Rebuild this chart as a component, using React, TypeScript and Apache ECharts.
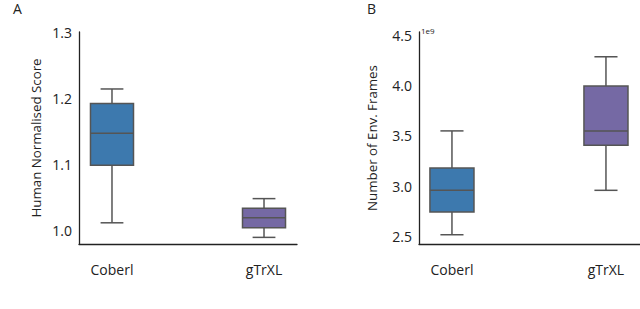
import React, { useEffect, useRef } from "react";
import * as echarts from "echarts";

const categories = ["Coberl", "gTrXL"];
// [min, Q1, median, Q3, max]
const scoreStats = [
  [1.012, 1.099, 1.147, 1.192, 1.214],
  [0.99, 1.0045, 1.0197, 1.0338, 1.0485],
];
const frameStats = [
  [2.517e9, 2.742e9, 2.958e9, 3.18e9, 3.548e9],
  [2.958e9, 3.405e9, 3.548e9, 3.993e9, 4.284e9],
];
const scoreTicks = [1.0, 1.1, 1.2, 1.3];
const frameTicks = [2.5e9, 3.0e9, 3.5e9, 4.0e9, 4.5e9];
const boxColors = ["#3d79ae", "#7569a4"];

const TEXT = "#222222";
const LINE = "#555555";

function makeRender(boxW: number, capW: number) {
  return (params: any, api: any) => {
    const x = api.value(0);
    const mn = api.value(1), q1 = api.value(2), md = api.value(3), q3 = api.value(4), mx = api.value(5);
    const pMin = api.coord([x, mn]);
    const pQ1 = api.coord([x, q1]);
    const pMd = api.coord([x, md]);
    const pQ3 = api.coord([x, q3]);
    const pMax = api.coord([x, mx]);
    const w = api.size([boxW, 0])[0];
    const cw = api.size([capW, 0])[0];
    const cx = pMd[0];
    const ls = { stroke: LINE, lineWidth: 1.5 };
    return {
      type: "group",
      children: [
        { type: "line", shape: { x1: cx, y1: pMax[1], x2: cx, y2: pQ3[1] }, style: ls },
        { type: "line", shape: { x1: cx, y1: pQ1[1], x2: cx, y2: pMin[1] }, style: ls },
        { type: "line", shape: { x1: cx - cw / 2, y1: pMax[1], x2: cx + cw / 2, y2: pMax[1] }, style: ls },
        { type: "line", shape: { x1: cx - cw / 2, y1: pMin[1], x2: cx + cw / 2, y2: pMin[1] }, style: ls },
        {
          type: "rect",
          shape: { x: cx - w / 2, y: pQ3[1], width: w, height: pQ1[1] - pQ3[1] },
          style: { fill: boxColors[params.dataIndex], stroke: LINE, lineWidth: 1.5 },
        },
        { type: "line", shape: { x1: cx - w / 2, y1: pMd[1], x2: cx + w / 2, y2: pMd[1] }, style: ls },
      ],
    };
  };
}

export default function App() {
  const ref = useRef<HTMLDivElement>(null);
  useEffect(() => {
    if (!ref.current) return;
    const chart = echarts.init(ref.current, undefined, { renderer: "svg" });
    const font = "'Open Sans', 'DejaVu Sans', sans-serif";
    const FS = 14;
    const NFS = 13.3;
    const axisLine = { show: true, onZero: false, lineStyle: { color: "#222", width: 1.3 } };
    const xAxisCommon = (min: number, max: number, gi: number) => ({
      type: "value",
      gridIndex: gi,
      min,
      max,
      splitLine: { show: false },
      axisTick: { show: false },
      axisLine,
      axisLabel: {
        customValues: [0, 1],
        formatter: (v: number) => categories[Math.round(v)] ?? "",
        color: TEXT,
        fontSize: FS,
        fontFamily: font,
        margin: 18,
      },
    });
    const toRows = (stats: number[][]) => stats.map((s, i) => [i, ...s]);
    chart.setOption({
      animation: false,
      textStyle: { fontFamily: font },
      grid: [
        { left: 79, top: 32, width: 218, height: 212 },
        { left: 419, top: 32, width: 221, height: 212 },
      ],
      xAxis: [xAxisCommon(-0.217, 1.217, 0), xAxisCommon(-0.214, 1.221, 1)],
      yAxis: [
        {
          type: "value",
          gridIndex: 0,
          min: 0.98,
          max: 1.3,
          splitLine: { show: false },
          axisTick: { show: false },
          axisLine,
          axisLabel: {
            customValues: scoreTicks,
            formatter: (v: number) => v.toFixed(1),
            color: TEXT,
            fontSize: FS,
            fontFamily: font,
            margin: 7,
          },
          name: "Human Normalised Score",
          nameLocation: "middle",
          nameGap: 37,
          nameTextStyle: { color: TEXT, fontSize: NFS, fontFamily: font },
        },
        {
          type: "value",
          gridIndex: 1,
          min: 2.425e9,
          max: 4.53e9,
          splitLine: { show: false },
          axisTick: { show: false },
          axisLine,
          axisLabel: {
            customValues: frameTicks,
            formatter: (v: number) => (v / 1e9).toFixed(1),
            color: TEXT,
            fontSize: FS,
            fontFamily: font,
            margin: 7,
          },
          name: "Number of Env. Frames",
          nameLocation: "middle",
          nameGap: 41,
          nameTextStyle: { color: TEXT, fontSize: NFS, fontFamily: font },
        },
      ],
      graphic: [
        { type: "text", left: 13, top: 1, style: { text: "A", fontSize: 14, fill: TEXT, fontFamily: font } },
        { type: "text", left: 367, top: 1, style: { text: "B", fontSize: 14, fill: TEXT, fontFamily: font } },
        { type: "text", left: 421, top: 26, style: { text: "1e9", fontSize: 8, fill: TEXT, fontFamily: font } },
      ],
      series: [
        {
          type: "custom",
          xAxisIndex: 0,
          yAxisIndex: 0,
          renderItem: makeRender(0.283, 0.15),
          data: toRows(scoreStats),
          encode: { x: 0, y: [1, 2, 3, 4, 5] },
          clip: false,
        },
        {
          type: "custom",
          xAxisIndex: 1,
          yAxisIndex: 1,
          renderItem: makeRender(0.286, 0.15),
          data: toRows(frameStats),
          encode: { x: 0, y: [1, 2, 3, 4, 5] },
          clip: false,
        },
      ],
    });
    return () => chart.dispose();
  }, []);
  return <div ref={ref} style={{ width: 640, height: 309, position: "absolute", left: 0, top: 0 }} />;
}
